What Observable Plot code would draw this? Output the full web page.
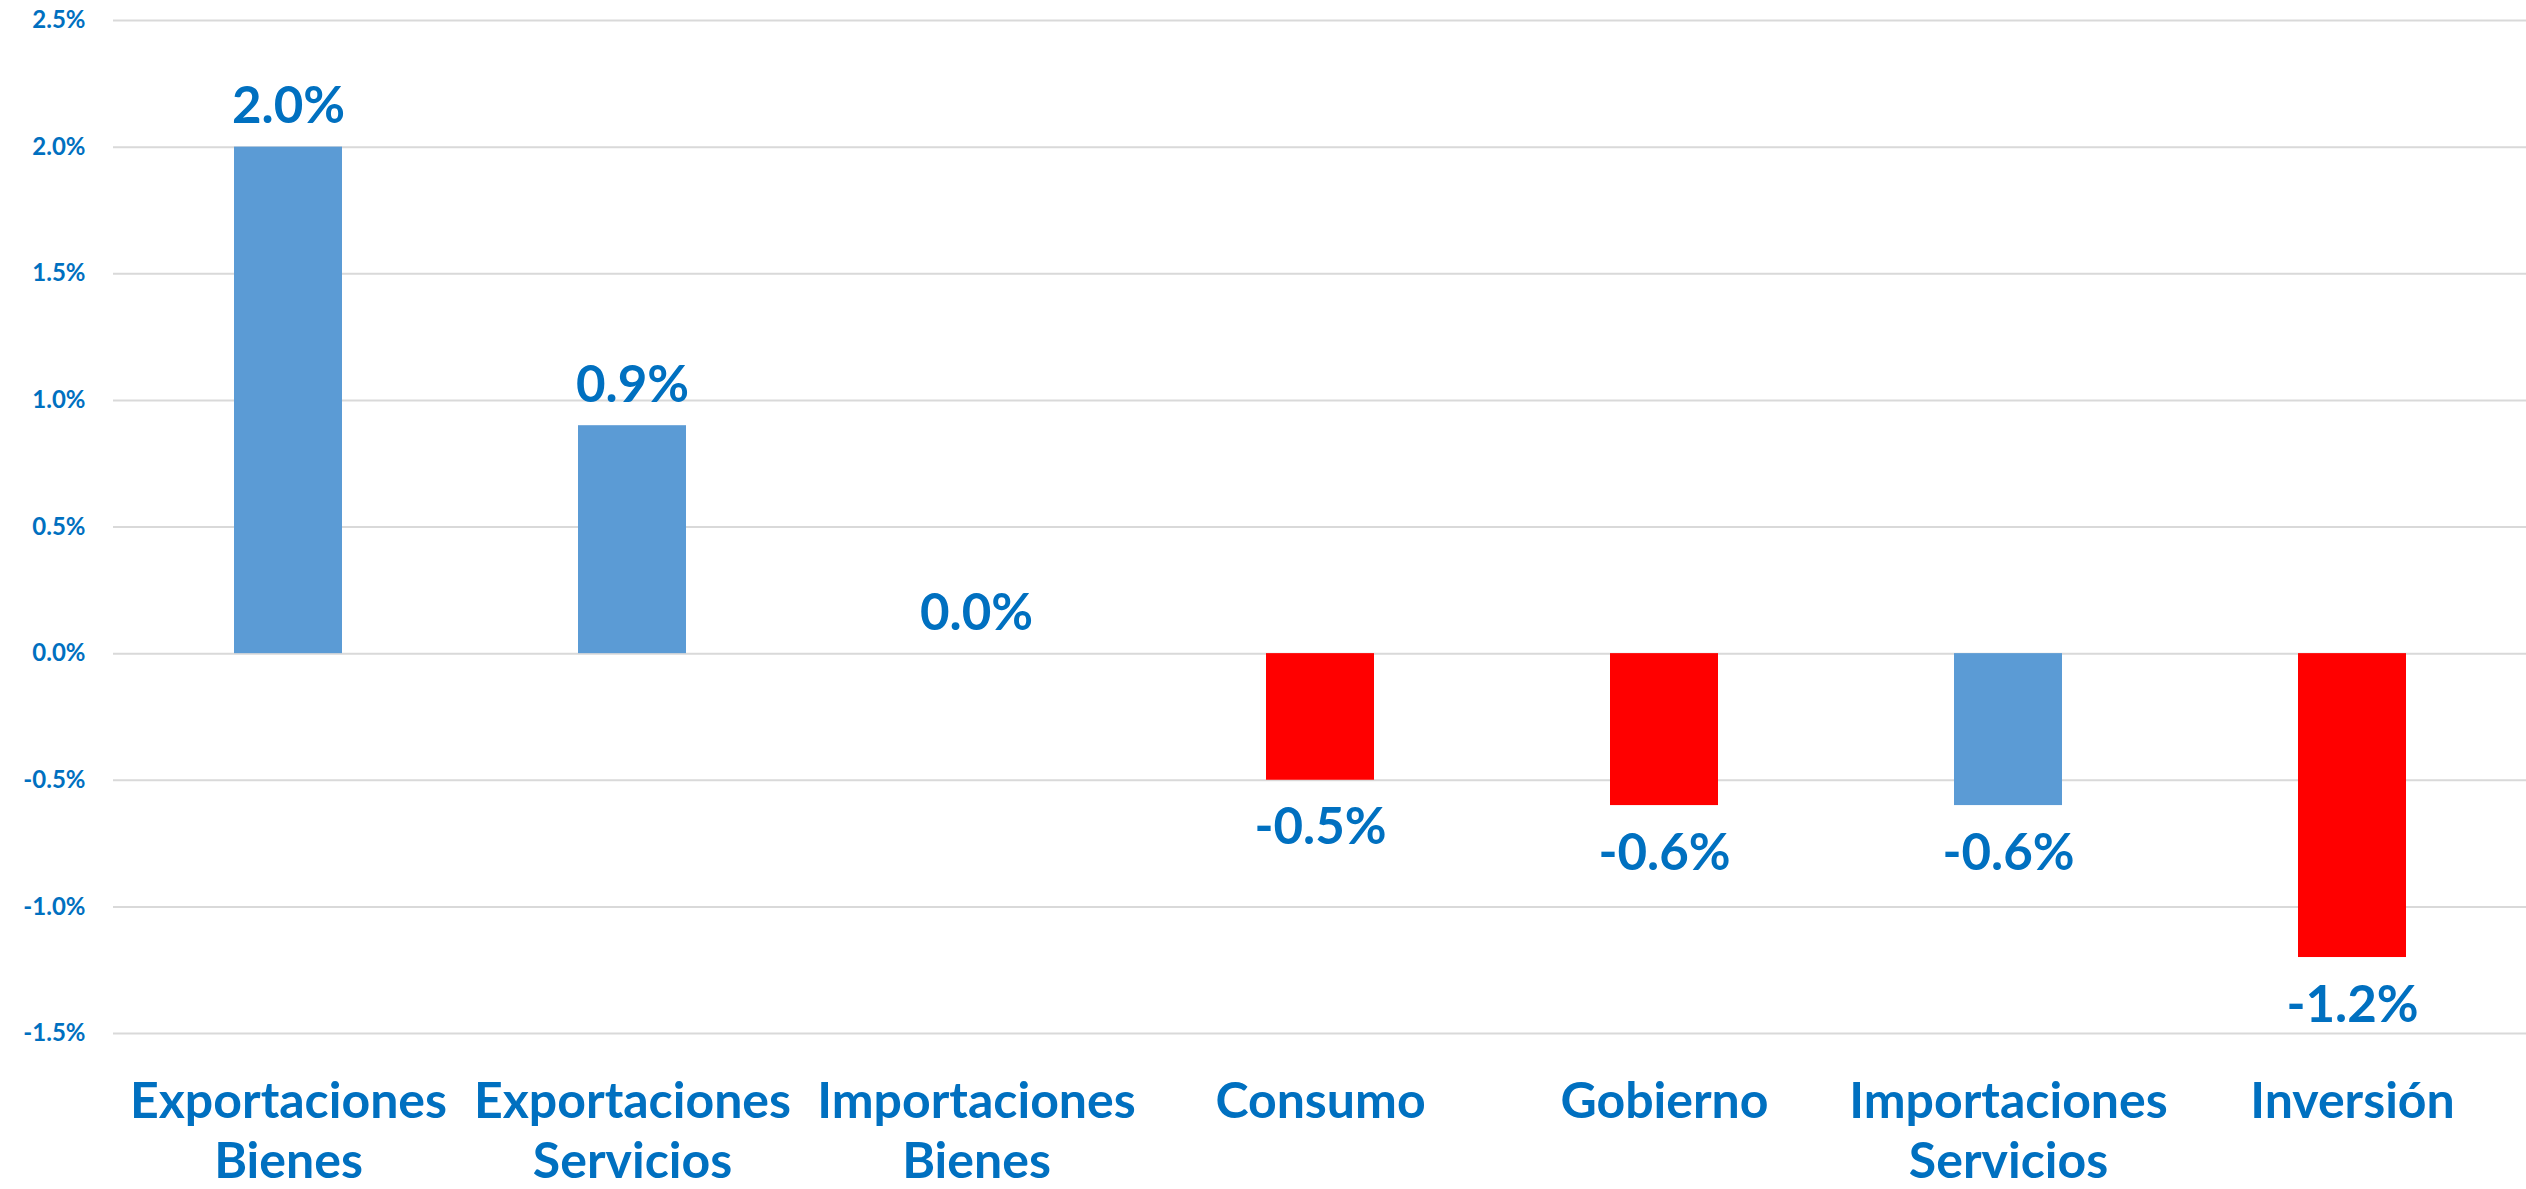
<!DOCTYPE html>
<html>
<head>
<meta charset="utf-8">
<script src="https://cdn.jsdelivr.net/npm/d3@7"></script>
<script src="https://cdn.jsdelivr.net/npm/@observablehq/plot@0.6"></script>
<style>
  html, body { margin: 0; padding: 0; background: #ffffff; }
  #chart svg { display: block; }
</style>
</head>
<body>
<div id="chart"></div>
<script>
const categories = [
  "Exportaciones\nBienes",
  "Exportaciones\nServicios",
  "Importaciones\nBienes",
  "Consumo",
  "Gobierno",
  "Importaciones\nServicios",
  "Inversión"
];
const values = [2.0, 0.9, 0.0, -0.5, -0.6, -0.6, -1.2];
const sector = ["Externo", "Externo", "Externo", "Interno", "Interno", "Externo", "Interno"];
const yTicks = [-1.5, -1.0, -0.5, 0.0, 0.5, 1.0, 1.5, 2.0, 2.5];

const data = categories.map((c, i) => ({ cat: c, value: values[i], sector: sector[i] }));
const fmt = d => d.toFixed(1) + "%";
const textColor = "#0070C0";
const font = "Lato, 'Open Sans', sans-serif";

const chart = Plot.plot({
  width: 2526,
  height: 1189,
  marginLeft: 113,
  marginRight: 0,
  marginTop: 20,
  marginBottom: 156,
  style: { fontFamily: font, background: "#ffffff" },
  x: { domain: categories, paddingInner: 0.687, paddingOuter: 0.3435, label: null },
  y: { domain: [-1.5, 2.5], label: null },
  color: { domain: ["Externo", "Interno"], range: ["#5B9BD5", "#FF0000"] },
  marks: [
    Plot.gridY(yTicks, { stroke: "#d9d9d9", strokeOpacity: 1, strokeWidth: 2 }),
    Plot.barY(data, { x: "cat", y: "value", fill: "sector" }),
    Plot.text(data.filter(d => d.value >= 0), {
      x: "cat", y: "value", text: d => fmt(d.value),
      lineAnchor: "bottom", dy: -24, fontSize: 51, fontWeight: "bold", fill: textColor
    }),
    Plot.text(data.filter(d => d.value < 0), {
      x: "cat", y: "value", text: d => fmt(d.value),
      lineAnchor: "top", dy: 28, fontSize: 51, fontWeight: "bold", fill: textColor
    }),
    Plot.axisY({
      ticks: yTicks, tickFormat: fmt, tickSize: 0, tickPadding: 28,
      fontSize: 24, fontWeight: "bold", fill: textColor, label: null
    }),
    Plot.axisX({
      tickSize: 0, tickPadding: 42, fontSize: 50, fontWeight: "bold",
      fill: textColor, lineHeight: 1.2, label: null
    })
  ]
});
document.getElementById("chart").appendChild(chart);
</script>
</body>
</html>
